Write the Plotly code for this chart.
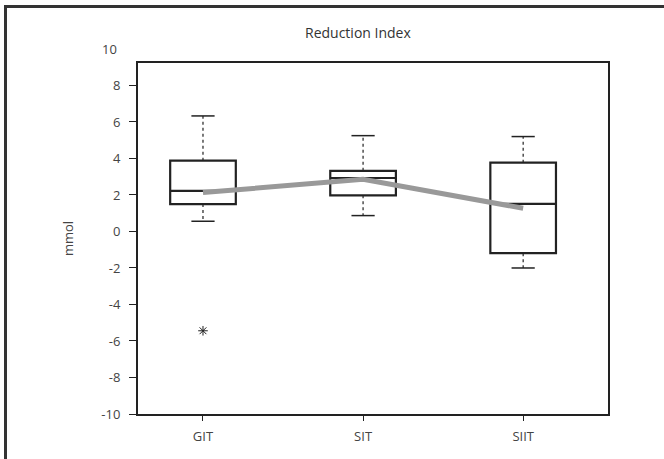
import plotly.graph_objects as go

categories = ["GIT", "SIT", "SIIT"]
xpos = [1, 2, 3]
whisker_low = [0.56, 0.87, -2.0]
q1 = [1.5, 1.98, -1.19]
median = [2.22, 2.93, 1.51]
q3 = [3.88, 3.32, 3.77]
whisker_high = [6.33, 5.25, 5.2]
means = [2.13, 2.86, 1.27]
outlier_x = [1]
outlier_y = [-5.44]
ytick_vals = [-10, -8, -6, -4, -2, 0, 2, 4, 6, 8]
ytick_text = ["-10", "-8", "-6", "-4", "-2", "0", "2", "4", "6", "8"]

BOX_W = 0.41
CAP_W = 0.145
INK = "#222222"
TXT = "#444444"
FONT = "Open Sans, Noto Sans, sans-serif"

fig = go.Figure()

# boxes (no whiskers; whiskers drawn dotted below)
fig.add_trace(go.Box(
    x=xpos, q1=q1, median=median, q3=q3,
    lowerfence=q1, upperfence=q3,
    width=BOX_W, whiskerwidth=0,
    fillcolor="rgba(0,0,0,0)",
    line=dict(color=INK, width=2.2),
    boxpoints=False, showlegend=False, hoverinfo="skip",
))

# dotted whiskers and caps
for i, xv in enumerate(xpos):
    fig.add_trace(go.Scatter(
        x=[xv, xv], y=[q3[i], whisker_high[i]], mode="lines",
        line=dict(color=INK, width=1.2, dash="dot"), showlegend=False, hoverinfo="skip"))
    fig.add_trace(go.Scatter(
        x=[xv, xv], y=[q1[i], whisker_low[i]], mode="lines",
        line=dict(color=INK, width=1.2, dash="dot"), showlegend=False, hoverinfo="skip"))
    for yv in (whisker_high[i], whisker_low[i]):
        fig.add_trace(go.Scatter(
            x=[xv - CAP_W / 2, xv + CAP_W / 2], y=[yv, yv], mode="lines",
            line=dict(color=INK, width=1.5), showlegend=False, hoverinfo="skip"))

# mean line
fig.add_trace(go.Scatter(
    x=xpos, y=means, mode="lines",
    line=dict(color="#999999", width=5), showlegend=False, hoverinfo="skip"))

# outlier
fig.add_trace(go.Scatter(
    x=outlier_x, y=outlier_y, mode="markers",
    marker=dict(symbol="asterisk-open", size=8, color=INK, line=dict(color=INK, width=1)),
    showlegend=False, hoverinfo="skip"))

L, R, T, B = 138, 56, 63, 45
W, H = 664, 459
pw, ph = W - L - R, H - T - B
YMIN, YMAX = -10, 9.23

def py(v):
    # pixel row -> paper y
    return (H - v - B) / ph

def px(v):
    return (v - L) / pw

fig.update_layout(
    width=W, height=H,
    margin=dict(l=L, r=R, t=T, b=B),
    plot_bgcolor="white", paper_bgcolor="white",
    font=dict(family=FONT, size=13, color=TXT),
    xaxis=dict(
        range=[0.594, 3.53], tickvals=xpos, ticktext=categories,
        showgrid=False, zeroline=False, showline=True, mirror=True,
        linecolor=INK, linewidth=2, ticks="outside", ticklen=5, tickcolor=INK,
        tickfont=dict(size=13, color=TXT), ticklabelstandoff=4,
    ),
    yaxis=dict(
        range=[YMIN, YMAX], tickvals=ytick_vals, ticktext=ytick_text,
        showgrid=False, zeroline=False, showline=True, mirror=True,
        linecolor=INK, linewidth=2, ticks="outside", ticklen=7, tickcolor=INK,
        tickfont=dict(size=13, color=TXT), ticklabelstandoff=6,
        title=dict(text="mmol", font=dict(size=13, color=TXT), standoff=25),
    ),
    annotations=[
        dict(text="Reduction Index", xref="paper", yref="paper",
             x=px(358), y=py(32), xanchor="center", yanchor="middle",
             showarrow=False, font=dict(size=14, color="#333333")),
        dict(text="10", xref="paper", yref="paper", x=px(119),
             y=(10 - YMIN) / (YMAX - YMIN),
             xanchor="right", yanchor="middle", showarrow=False,
             font=dict(size=13, color=TXT)),
    ],
)

# outer page frame (top and left edges only, as in the reference)
frame_js = (
    "document.documentElement.style.margin='0';"
    "document.body.style.margin='0';"
    "document.body.style.overflow='hidden';"
    "document.documentElement.style.overflow='hidden';"
    "var t=document.createElement('div');"
    "t.style.position='absolute';t.style.left='4px';t.style.top='5px';"
    "t.style.width='660px';t.style.height='2.5px';t.style.background='#333';"
    "t.style.pointerEvents='none';t.style.zIndex='10';"
    "document.body.appendChild(t);"
    "var l=document.createElement('div');"
    "l.style.position='absolute';l.style.left='4px';l.style.top='5px';"
    "l.style.width='2.5px';l.style.height='454px';l.style.background='#333';"
    "l.style.pointerEvents='none';l.style.zIndex='10';"
    "document.body.appendChild(l);"
)

fig.write_html("out.html", config={"displayModeBar": False}, post_script=frame_js)
